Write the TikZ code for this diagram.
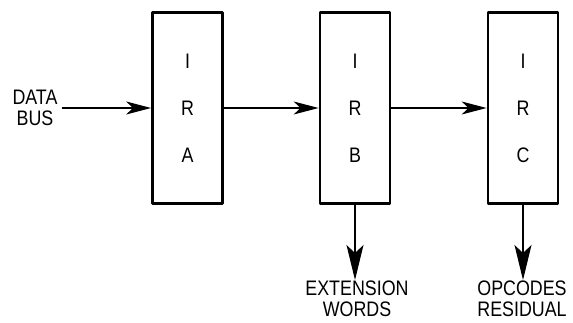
\documentclass[tikz,border=0pt]{standalone}
\usepackage{fontspec}
\setmainfont{Liberation Sans}[FakeStretch=0.85]
\usetikzlibrary{arrows.meta,positioning}

\tikzset{
  reg/.style={draw, line width=2.8pt, minimum width=70pt, minimum height=191pt, inner sep=0pt, align=center},
  lbl/.style={align=center, inner sep=1pt},
  flow/.style={-{Stealth[length=25pt,width=13pt,inset=7pt]}, line width=1.2pt},
  drop/.style={-{Stealth[length=35pt,width=17pt,inset=8pt]}, line width=1.2pt}
}

\begin{document}
\begin{tikzpicture}[x=1pt, y=-1pt, font=\fontsize{21}{21}\selectfont, line join=round]
	\useasboundingbox (0,0) rectangle (573,323);
	
	\node[reg] (IRA) at (187.5,108) {I\\[26pt]R\\[26pt]A};
	\node[reg] (IRB) at (355,108) {I\\[26pt]R\\[26pt]B};
	\node[reg] (IRC) at (523,108) {I\\[26pt]R\\[26pt]C};
	
	\node[lbl] (bus) at (35,108) {DATA\\BUS};
	\node[lbl, anchor=north] (ext) at (357,280) {EXTENSION\\WORDS};
	\node[lbl, anchor=north] (res) at (522,280) {OPCODES\\RESIDUAL};
	
	\draw[flow] (bus.east) ++(3,0) -- (IRA.west);
	\draw[flow] (IRA.east) -- (IRB.west);
	\draw[flow] (IRB.east) -- (IRC.west);
	
	\draw[drop] (IRB.south) -- (IRB.south |- ext.north);
	\draw[drop] (IRC.south) -- (IRC.south |- res.north);
\end{tikzpicture}
\end{document}
